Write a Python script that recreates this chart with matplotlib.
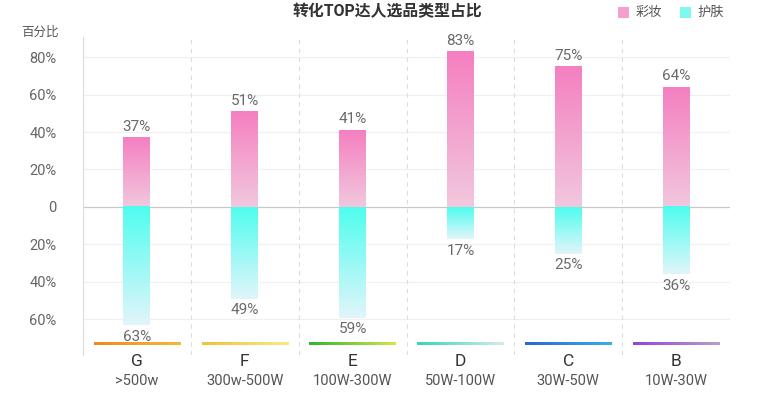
import numpy as np
import matplotlib
matplotlib.use("Agg")
import matplotlib.pyplot as plt
from matplotlib.colors import LinearSegmentedColormap, to_rgb
from matplotlib.patches import Rectangle

plt.rcParams['font.family'] = ['Roboto', 'Noto Sans CJK SC', 'DejaVu Sans']

# ---- data ----
categories = ["G", "F", "E", "D", "C", "B"]
ranges = [">500w", "300w-500W", "100W-300W", "50W-100W", "30W-50W", "10W-30W"]
makeup = [37, 51, 41, 83, 75, 64]        # 彩妆
skincare = [63, 49, 59, 17, 25, 36]      # 护肤
series_names = ["彩妆", "护肤"]
yticks = [80, 60, 40, 20, 0, -20, -40, -60]
ytick_labels = ["80%", "60%", "40%", "20%", "0", "20%", "40%", "60%"]
line_colors = [("#ef8a1e", "#f4b934"), ("#f3c13a", "#f7ea86"), ("#2fb62f", "#d5e64c"),
               ("#34d6bf", "#d2ede8"), ("#2a66d2", "#3caee6"), ("#9a3ede", "#b7a0c8")]

W, H = 769, 394
fig = plt.figure(figsize=(W / 100, H / 100), dpi=100)
ax = fig.add_axes([83 / W, 1 - 355 / H, (730 - 83) / W, (355 - 37) / H])
ymin, ymax = -79, 90.7
n = len(categories)
ax.set_xlim(0, n)
ax.set_ylim(ymin, ymax)

pink_cmap = LinearSegmentedColormap.from_list("pink", ["#f1c8dd", "#f57fc1"])
cyan_cmap = LinearSegmentedColormap.from_list("cyan", ["#4ffdef", "#e2f5fa"])
grad = np.linspace(0, 1, 256).reshape(-1, 1)

bw = 0.25
for i in range(n):
    xc = i + 0.5
    v = makeup[i]
    ax.imshow(grad, cmap=pink_cmap, origin="lower", aspect="auto",
              extent=[xc - bw / 2, xc + bw / 2, 0, v], zorder=3)
    s = skincare[i]
    ax.imshow(grad, cmap=cyan_cmap, origin="upper", aspect="auto",
              extent=[xc - bw / 2, xc + bw / 2, -s, 0], zorder=3)
    ax.text(xc, v + 2, f"{v}%", ha="center", va="bottom", fontsize=11, color="#6a6a6a")
    ax.text(xc, -s - 2.5, f"{s}%", ha="center", va="top", fontsize=11, color="#6a6a6a")
    # gradient line at bottom
    c0, c1 = np.array(to_rgb(line_colors[i][0])), np.array(to_rgb(line_colors[i][1]))
    row = np.array([c0 + (c1 - c0) * t for t in np.linspace(0, 1, 128)]).reshape(1, -1, 3)
    ax.imshow(row, aspect="auto", extent=[i + 0.1, i + 0.9, -73.8, -72.2], zorder=3,
              interpolation="bilinear")

ax.set_xlim(0, n)
ax.set_ylim(ymin, ymax)

# grid
for t in yticks:
    ax.axhline(t, color="#c8c8c8" if t == 0 else "#f0f0f0", lw=0.9, zorder=1)
for i in range(1, n):
    ax.axvline(i, color="#dddddd", lw=0.8, ls=(0, (4, 4)), zorder=1)

for sp in ["top", "right", "bottom"]:
    ax.spines[sp].set_visible(False)
ax.spines["left"].set_color("#dddddd")
ax.set_xticks([])
ax.set_yticks(yticks)
ax.set_yticklabels(ytick_labels, fontsize=10.5, color="#666666")
ax.tick_params(axis="y", length=0, pad=19)

# category labels
for i in range(n):
    xf = (83 + (i + 0.5) * (730 - 83) / n) / W
    fig.text(xf, 1 - 361 / H, categories[i], ha="center", va="center", fontsize=12.5, color="#333333")
    fig.text(xf, 1 - 381 / H, ranges[i], ha="center", va="center", fontsize=10.5, color="#555555")

fig.text(40 / W, 1 - 32 / H, "百分比", ha="center", va="center", fontsize=9, color="#555555")
fig.text(387 / W, 1 - 12 / H, "转化TOP达人选品类型占比", ha="center", va="center",
         fontsize=11.4, fontweight="bold", color="#333333")

# legend
fig.patches.append(Rectangle((618 / W, 1 - 18 / H), 11 / W, 11 / H, transform=fig.transFigure,
                             facecolor="#f49fcd", edgecolor="none"))
fig.text(636 / W, 1 - 12 / H, series_names[0], ha="left", va="center", fontsize=9.5, color="#555555")
fig.patches.append(Rectangle((680 / W, 1 - 18 / H), 11 / W, 11 / H, transform=fig.transFigure,
                             facecolor="#7ff8ef", edgecolor="none"))
fig.text(697 / W, 1 - 12 / H, series_names[1], ha="left", va="center", fontsize=9.5, color="#555555")

fig.savefig("out.png", dpi=100)
